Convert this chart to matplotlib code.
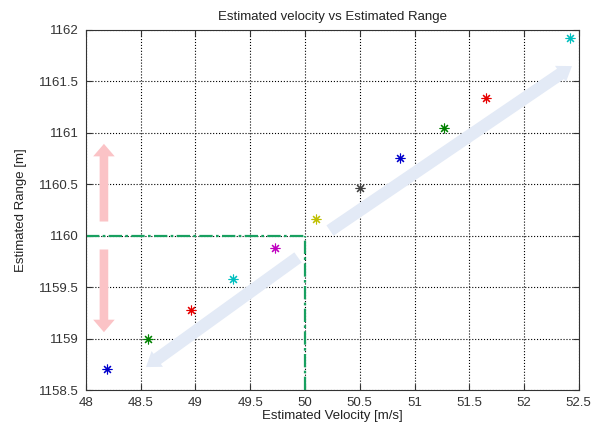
import matplotlib.pyplot as plt

plt.rcParams['font.family'] = ['Liberation Sans', 'DejaVu Sans']

velocity = [48.19, 48.57, 48.96, 49.34, 49.73, 50.10, 50.50, 50.87, 51.27, 51.65, 52.42]
rng = [1158.70, 1159.00, 1159.28, 1159.58, 1159.88, 1160.16, 1160.46, 1160.76, 1161.05, 1161.34, 1161.92]
colors = [(0, 0, 0.8), (0, 0.5, 0), (0.9, 0, 0), (0, 0.75, 0.75), (0.75, 0, 0.75),
          (0.75, 0.75, 0), (0.25, 0.25, 0.25), (0, 0, 0.8), (0, 0.5, 0), (0.9, 0, 0), (0, 0.75, 0.75)]

ref_v = 50
ref_r = 1160

# annotation arrows (start, tip) in data coordinates
pink_up = [(48.164, 1160.138), (48.164, 1160.893)]
pink_down = [(48.164, 1159.866), (48.164, 1159.062)]
blue_low = [(49.936, 1159.789), (48.548, 1158.723)]
blue_up = [(50.228, 1160.05), (52.438, 1161.649)]

fig = plt.figure(figsize=(6, 4.29), dpi=100)
ax = fig.add_axes([0.1433, 0.0909, 0.8213, 0.8392])

for a in (pink_up, pink_down):
    ax.annotate('', xy=a[1], xytext=a[0],
                arrowprops=dict(arrowstyle='simple,head_width=1.55,head_length=0.9,tail_width=0.62',
                                color='#fbc3c6', lw=0, shrinkA=0, shrinkB=0, mutation_scale=10))
for a in (blue_low, blue_up):
    ax.annotate('', xy=a[1], xytext=a[0],
                arrowprops=dict(arrowstyle='simple,head_width=1.4,head_length=1.0,tail_width=0.9',
                                color='#e3eaf6', lw=0, shrinkA=0, shrinkB=0, mutation_scale=10))

ax.plot([48, ref_v], [ref_r, ref_r], linestyle='-.', color='#18a060', lw=1.6, dashes=(6, 1.5, 1.2, 1.5))
ax.plot([ref_v, ref_v], [1158.5, ref_r], linestyle='-.', color='#18a060', lw=1.6, dashes=(6, 1.5, 1.2, 1.5))

for v, r, c in zip(velocity, rng, colors):
    ax.plot(v, r, linestyle='none', marker=(8, 2, 0), markersize=7, mew=0.8, color=c)

ax.set_xlim(48, 52.5)
ax.set_ylim(1158.5, 1162)
ax.set_xticks([48, 48.5, 49, 49.5, 50, 50.5, 51, 51.5, 52, 52.5])
ax.set_xticklabels(['48', '48.5', '49', '49.5', '50', '50.5', '51', '51.5', '52', '52.5'])
ax.set_yticks([1158.5, 1159, 1159.5, 1160, 1160.5, 1161, 1161.5, 1162])
ax.set_yticklabels(['1158.5', '1159', '1159.5', '1160', '1160.5', '1161', '1161.5', '1162'])
ax.grid(True, linestyle=':', color='black', lw=0.8)
ax.tick_params(direction='in', top=True, right=True, length=4, labelsize=9.5, colors='#333333')
ax.tick_params(axis='x', pad=5)
ax.tick_params(axis='y', pad=5)
for s in ax.spines.values():
    s.set_color('#333333')
    s.set_linewidth(0.8)

ax.set_title('Estimated velocity vs Estimated Range', fontsize=9.5, color='#222222', pad=7)
ax.set_xlabel('Estimated Velocity [m/s]', fontsize=9.5, color='#222222', labelpad=1)
ax.set_ylabel('Estimated Range [m]', fontsize=9.5, color='#222222', labelpad=9)

plt.savefig('out.png', dpi=100)
